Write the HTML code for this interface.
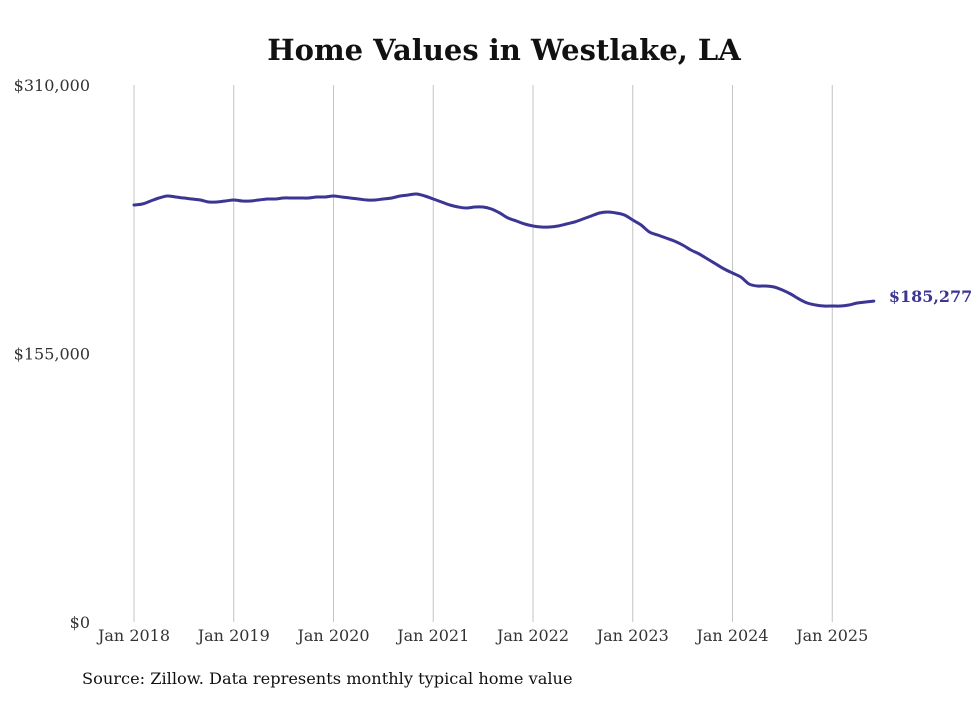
<!DOCTYPE html>
<html><head><meta charset="utf-8"><style>
body{margin:0;background:#fff;width:980px;height:699px;overflow:hidden;font-family:"DejaVu Serif","Liberation Serif",serif;}
</style></head><body>
<svg id="chart" width="980" height="699" xmlns="http://www.w3.org/2000/svg">
<text x="504" y="60" text-anchor="middle" font-size="29" font-weight="bold" fill="#111">Home Values in Westlake, LA</text>
<g id="grid"></g><g id="ylab"></g><g id="xlab"></g><g id="series"></g>
<text x="82" y="684" font-size="16.2" fill="#111">Source: Zillow. Data represents monthly typical home value</text>
</svg>
<script>
const yTicks=[0,155000,310000];
const yTickLabels=["$0","$155,000","$310,000"];
const xTickYears=["Jan 2018","Jan 2019","Jan 2020","Jan 2021","Jan 2022","Jan 2023","Jan 2024","Jan 2025"];
const values=[240726,241303,243035,244766,245921,245343,244766,244189,243612,242458,242458,243035,
243612,243035,243035,243612,244189,244189,244766,244766,244766,244766,245343,245343,
245921,245343,244766,244189,243612,243612,244189,244766,245921,246498,247076,245921,
244189,242458,240726,239571,238994,239571,239571,238417,236108,233221,231489,229757,
228603,228026,228026,228603,229757,230912,232644,234376,236108,236685,236108,234953,
232067,229180,225139,223407,221676,219944,217635,214748,212439,209553,206666,203780,
201471,199162,195121,193966,193966,193389,191657,189348,186461,184152,182998,182420,
182420,182420,182998,184152,184730,185277];
const lastLabel="$185,277";
const NS="http://www.w3.org/2000/svg";
const x0=134,pxPerMonth=99.75/12,yBase=622,yTop=85;
const X=m=>x0+m*pxPerMonth;
const Y=v=>yBase-(v/310000)*(yBase-yTop);
function mk(tag,attrs,parent){const e=document.createElementNS(NS,tag);for(const k in attrs)e.setAttribute(k,attrs[k]);parent.appendChild(e);return e;}
const grid=document.getElementById('grid'),ylab=document.getElementById('ylab'),xlab=document.getElementById('xlab'),series=document.getElementById('series');
xTickYears.forEach((t,i)=>{
 const l=mk('line',{x1:X(i*12),x2:X(i*12),y1:yTop,y2:yBase,stroke:'#c4c4c4','stroke-width':1},grid);
 
 
 const tx=mk('text',{x:X(i*12),y:641,'text-anchor':'middle','font-size':16,fill:'#333'},xlab);
 tx.textContent=t;
 
 
});
yTicks.forEach((v,i)=>{
 const tx=mk('text',{x:90,y:Y(v)+6,'text-anchor':'end','font-size':16,fill:'#333'},ylab);
 tx.textContent=yTickLabels[i];
 
 
});
// smooth path via Catmull-Rom
const pts=values.map((v,i)=>[X(i),Y(v)]);
let d='M'+pts[0][0].toFixed(1)+','+pts[0][1].toFixed(1);
for(let i=0;i<pts.length-1;i++){
 const p0=pts[i-1]||pts[i],p1=pts[i],p2=pts[i+1],p3=pts[i+2]||p2;
 const c1=[p1[0]+(p2[0]-p0[0])/6,p1[1]+(p2[1]-p0[1])/6];
 const c2=[p2[0]-(p3[0]-p1[0])/6,p2[1]-(p3[1]-p1[1])/6];
 d+=' C'+c1.map(n=>n.toFixed(1)).join(',')+' '+c2.map(n=>n.toFixed(1)).join(',')+' '+p2.map(n=>n.toFixed(1)).join(',');
}
const p=mk('path',{d:d,fill:'none',stroke:'#3b3594','stroke-width':3,'stroke-linejoin':'round','stroke-linecap':'round'},series);


const li=values.length-1;
const lt=mk('text',{x:X(li)+15,y:Y(values[li])+1,'font-size':16,'font-weight':'bold',fill:'#3b3594'},series);
lt.textContent=lastLabel;


</script>
</body></html>
